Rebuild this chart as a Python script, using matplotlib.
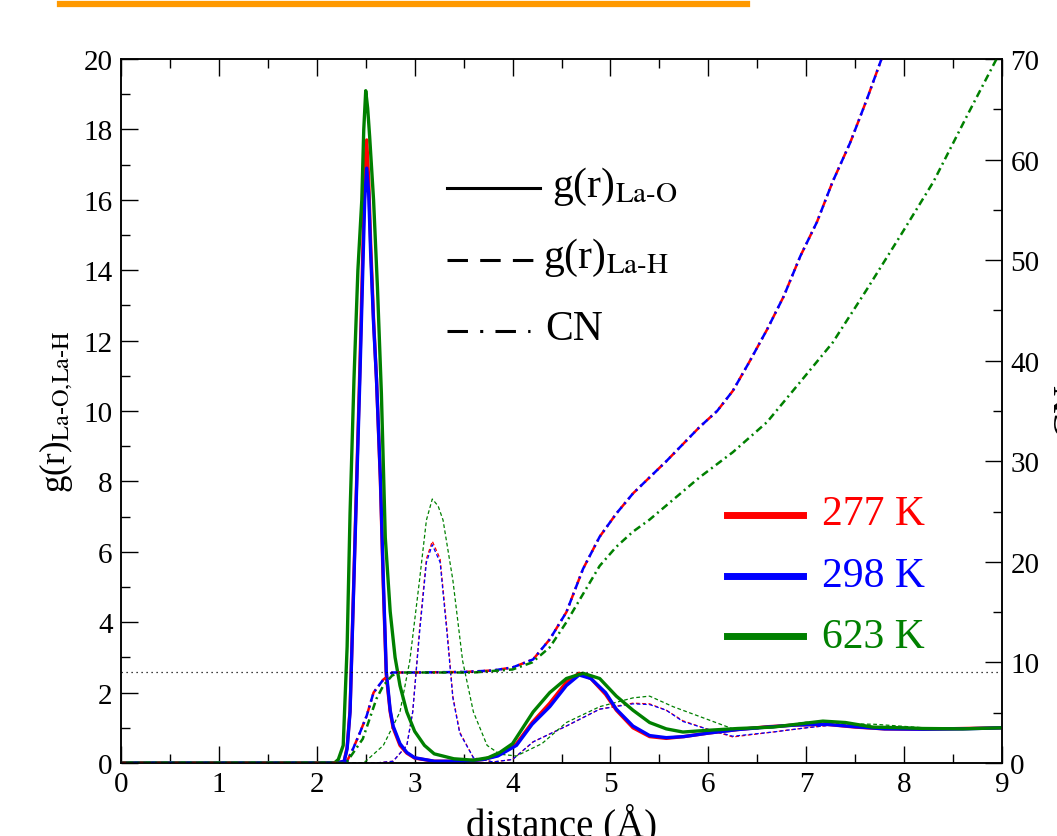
import matplotlib
matplotlib.use("Agg")
import matplotlib.pyplot as plt
from matplotlib.lines import Line2D

plt.rcParams['font.family'] = ['Liberation Serif', 'DejaVu Serif']
plt.rcParams['mathtext.fontset'] = 'stix'

# g(r) La-O (solid lines)
r_lao_low = [0, 2.20, 2.28, 2.31, 2.34, 2.37, 2.41, 2.44, 2.47, 2.49,
             2.51, 2.53, 2.55, 2.58, 2.61, 2.65, 2.68, 2.71, 2.75, 2.78,
             2.85, 2.92, 3.0, 3.2, 3.5, 3.7, 3.85, 4.04, 4.2, 4.38,
             4.55, 4.68, 4.8, 4.95, 5.06, 5.23, 5.4, 5.57, 5.75, 6.0,
             6.3, 6.6, 6.9, 7.2, 7.5, 7.8, 8.2, 8.6, 9.0]
g_lao_277 = [0, 0, 0.05, 0.45, 1.5, 4.4, 8.3, 11.2, 14.5, 17.0,
             17.7, 16.6, 14.8, 12.6, 10.9, 8.0, 5.0, 2.5, 1.45, 1.0,
             0.5, 0.28, 0.14, 0.05, 0.05, 0.1, 0.22, 0.55, 1.15, 1.7,
             2.3, 2.55, 2.4, 1.95, 1.5, 1.0, 0.75, 0.7, 0.75, 0.85,
             0.95, 1.03, 1.08, 1.1, 1.02, 0.97, 0.96, 0.98, 1.0]
g_lao_298 = [0, 0, 0.05, 0.4, 1.45, 4.3, 8.1, 10.9, 14.0, 16.0,
             16.9, 16.2, 14.5, 12.5, 10.9, 8.1, 5.2, 2.6, 1.5, 1.05,
             0.55, 0.3, 0.15, 0.05, 0.05, 0.1, 0.2, 0.5, 1.1, 1.6,
             2.2, 2.5, 2.4, 2.0, 1.53, 1.05, 0.78, 0.72, 0.75, 0.85,
             0.95, 1.02, 1.08, 1.1, 1.03, 0.97, 0.96, 0.97, 1.0]
r_lao_623 = [0, 2.18, 2.22, 2.27, 2.31, 2.34, 2.38, 2.42, 2.46, 2.48,
             2.50, 2.52, 2.54, 2.58, 2.62, 2.66, 2.70, 2.75, 2.80, 2.85,
             2.92, 3.0, 3.1, 3.2, 3.4, 3.6, 3.75, 3.87, 4.0, 4.21,
             4.38, 4.55, 4.72, 4.89, 5.06, 5.23, 5.4, 5.57, 5.74, 6.0,
             6.3, 6.66, 6.9, 7.17, 7.4, 7.68, 8.0, 8.19, 8.6, 9.0]
g_lao_623 = [0, 0, 0.1, 0.5, 3.3, 7.1, 10.9, 14.0, 16.0, 18.0,
             19.1, 18.6, 17.8, 16.0, 13.5, 10.5, 6.4, 4.3, 3.0, 2.2,
             1.45, 0.9, 0.5, 0.26, 0.12, 0.08, 0.15, 0.3, 0.55, 1.45,
             2.0, 2.4, 2.55, 2.4, 1.9, 1.5, 1.15, 0.97, 0.88, 0.93,
             0.98, 1.02, 1.1, 1.19, 1.15, 1.02, 1.0, 0.98, 0.97, 1.0]

# g(r) La-H (thin dashed lines)
r_lah_low = [0, 2.6, 2.78, 2.92, 2.98, 3.05, 3.12, 3.18, 3.26, 3.33,
             3.39, 3.46, 3.6, 3.8, 4.0, 4.21, 4.55, 4.89, 5.23, 5.4,
             5.57, 5.74, 5.98, 6.25, 6.66, 7.0, 7.34, 7.7, 8.2, 8.6, 9.0]
g_lah_277 = [0, 0, 0.05, 0.5, 1.45, 3.8, 5.8, 6.3, 5.8, 3.8,
             1.9, 0.88, 0.15, 0.03, 0.1, 0.6, 1.05, 1.53, 1.7, 1.68,
             1.5, 1.2, 0.97, 0.74, 0.88, 1.0, 1.1, 1.02, 0.98, 0.99, 1.0]
g_lah_298 = [0, 0, 0.05, 0.5, 1.45, 3.7, 5.7, 6.2, 5.7, 3.7,
             1.85, 0.85, 0.15, 0.03, 0.1, 0.6, 1.05, 1.53, 1.68, 1.66,
             1.5, 1.18, 0.97, 0.76, 0.88, 1.0, 1.1, 1.02, 0.98, 0.99, 1.0]
r_lah_623 = [0, 2.45, 2.5, 2.68, 2.85, 2.95, 3.05, 3.12, 3.18, 3.24,
             3.29, 3.39, 3.49, 3.6, 3.74, 3.87, 4.04, 4.3, 4.55, 4.89,
             5.23, 5.4, 5.64, 5.98, 6.25, 6.5, 7.0, 7.3, 7.7, 8.2, 8.6, 9.0]
g_lah_623 = [0, 0, 0.05, 0.5, 1.45, 2.9, 5.2, 6.9, 7.5, 7.3,
             6.9, 5.2, 2.9, 1.45, 0.5, 0.25, 0.2, 0.55, 1.15, 1.6,
             1.85, 1.9, 1.6, 1.25, 0.97, 0.97, 1.16, 1.12, 1.1, 1.0, 0.99, 1.0]

# coordination number (dash-dot, right axis)
r_cn_low = [0, 2.30, 2.37, 2.44, 2.51, 2.58, 2.68, 2.77, 3.0, 3.5,
            3.8, 4.0, 4.21, 4.38, 4.55, 4.72, 4.89, 5.06, 5.23, 5.57,
            5.91, 6.09, 6.25, 6.42, 6.6, 6.77, 6.94, 7.11, 7.27, 7.45,
            7.62, 7.78]
cn_277 = [0, 0, 1.4, 3.0, 4.7, 7.0, 8.3, 9.0, 9.0, 9.05,
          9.2, 9.5, 10.3, 12.3, 15.0, 19.3, 22.5, 24.8, 26.8, 30.0,
          33.4, 35.0, 37.0, 39.9, 43.1, 46.4, 50.4, 53.8, 57.8, 61.7,
          66.0, 70.3]
cn_298 = [0, 0, 1.4, 3.0, 4.7, 7.0, 8.3, 9.0, 9.0, 9.05,
          9.2, 9.5, 10.3, 12.3, 15.0, 19.3, 22.5, 24.8, 26.8, 30.0,
          33.4, 35.0, 37.0, 39.9, 43.1, 46.4, 50.4, 53.8, 57.8, 61.7,
          66.0, 70.3]
r_cn_623 = [0, 2.30, 2.47, 2.61, 2.68, 2.77, 2.85, 3.2, 3.6, 4.0,
            4.2, 4.38, 4.55, 4.72, 4.89, 5.06, 5.23, 5.4, 5.57, 5.91,
            6.25, 6.6, 6.94, 7.27, 7.62, 7.96, 8.3, 8.64, 8.96]
cn_623 = [0, 0, 2.4, 6.4, 7.7, 8.7, 9.0, 9.0, 9.0, 9.3,
          10.0, 11.5, 14.0, 16.8, 19.6, 21.5, 23.0, 24.2, 25.6, 28.4,
          30.9, 33.9, 37.9, 41.8, 47.1, 52.4, 57.8, 64.3, 70.3]
cn_plateau = 9.0

temps = ['277 K', '298 K', '623 K']
colors = ['red', 'blue', 'green']

W, H = 1057, 837
fig = plt.figure(figsize=(W / 100, H / 100), dpi=100)
L, R, T, B = 121, 1002, 60, 764
ax = fig.add_axes([L / W, (H - B) / H, (R - L) / W, (B - T) / H])
ax2 = ax.twinx()

# La-H first (thin), then CN, then La-O on top
lah = [(r_lah_low, g_lah_277), (r_lah_low, g_lah_298), (r_lah_623, g_lah_623)]
for (r, g), c in zip(lah, colors):
    ax.plot(r, g, color=c, lw=0.9, dashes=(3, 2))

lao = [(r_lao_low, g_lao_277), (r_lao_low, g_lao_298), (r_lao_623, g_lao_623)]
for (r, g), c in zip(lao, colors):
    ax.plot(r, g, color=c, lw=2.4, zorder=3)

cns = [(r_cn_low, cn_277), (r_cn_low, cn_298), (r_cn_623, cn_623)]
for i, ((r, n), c) in enumerate(zip(cns, colors)):
    ax2.plot(r, n, color=c, lw=1.8, linestyle=(2.5 * i, (3, 1.6, 0.8, 1.6)))
ax2.axhline(cn_plateau, color='black', lw=0.9, linestyle=(0, (1, 3)))

ax.set_xlim(0, 9)
ax.set_ylim(0, 20)
ax2.set_ylim(0, 70)
ax.set_xticks(range(10))
ax.set_xticks([i + 0.5 for i in range(9)], minor=True)
ax.set_yticks(range(0, 21, 2))
ax.set_yticks(range(1, 20, 2), minor=True)
ax2.set_yticks(range(0, 71, 10))
ax2.set_yticks(range(5, 70, 10), minor=True)

for a in (ax, ax2):
    a.tick_params(which='major', direction='in', length=12, width=1.0, labelsize=21, pad=6)
    a.tick_params(which='minor', direction='in', length=6.5, width=1.0)
    for s in a.spines.values():
        s.set_linewidth(1.1)
ax.tick_params(which='both', top=True, right=False)
ax2.tick_params(which='both', left=False, right=True)

ax.set_xlabel('distance (Å)', fontsize=28, labelpad=4)
ax.set_ylabel(r'g(r)$_{\mathrm{La\text{-}O{,}La\text{-}H}}$', fontsize=25, labelpad=6)
fig.text(1051 / W, 1 - 410 / H, 'CN', rotation=90, fontsize=28, ha='left', va='center')


def axpos(px, py):
    return (px - L) / (R - L), (B - py) / (B - T)


# black legend (line styles)
styles = [('-', None), ('--', (6.7, 4)), ('-.', (6.7, 4, 1, 4))]
labels = [r'g(r)$_{\mathrm{La\text{-}O}}$', r'g(r)$_{\mathrm{La\text{-}H}}$', 'CN']
line_y = [189, 261, 332]
text_x = [552, 543, 545]
base_y = [197, 268, 340]
line_end = [540, 540, 530]
for (ls, d), lab, ly, tx, by, le in zip(styles, labels, line_y, text_x, base_y, line_end):
    x0, y0 = axpos(447, ly)
    x1, _ = axpos(le, ly)
    ln = Line2D([x0, x1], [y0, y0], transform=ax2.transAxes, color='black', lw=2.2)
    if d is not None:
        ln.set_dashes(d)
    ax2.add_line(ln)
    tx0, ty0 = axpos(tx, by)
    ax2.text(tx0, ty0, lab, transform=ax2.transAxes, fontsize=30, va='baseline', ha='left')

# colour legend (temperatures)
for t, c, ly, by in zip(temps, colors, [516, 577, 637], [525, 587, 648]):
    x0, y0 = axpos(727, ly)
    x1, _ = axpos(803, ly)
    ax2.add_line(Line2D([x0, x1], [y0, y0], transform=ax2.transAxes, color=c, lw=5))
    tx0, ty0 = axpos(822, by)
    ax2.text(tx0, ty0, t, transform=ax2.transAxes, fontsize=30, color=c, va='baseline', ha='left')

# orange bar at the top
fig.add_artist(Line2D([60 / W, 747 / W], [1 - 5 / H, 1 - 5 / H], color='#ff9900', lw=4.5))

fig.savefig('out.png', dpi=100)
